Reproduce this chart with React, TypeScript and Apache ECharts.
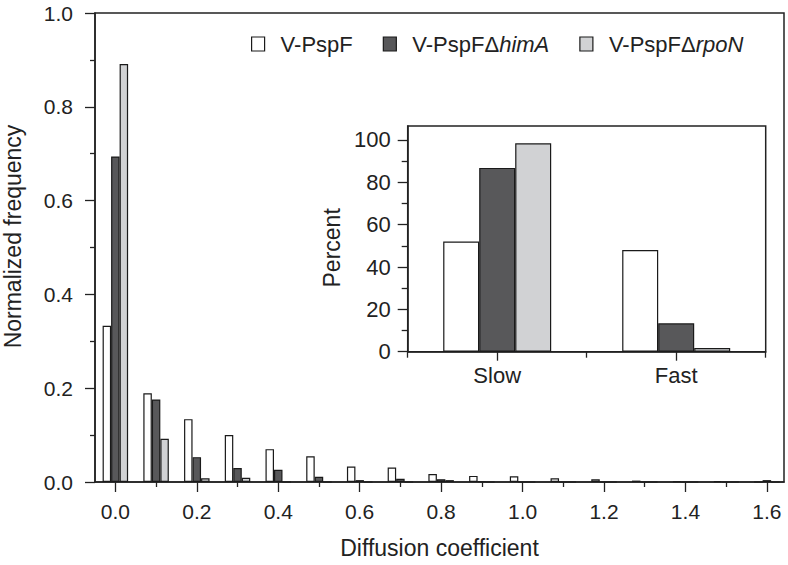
import React, { useEffect, useRef } from 'react';
import * as echarts from 'echarts';

// Main histogram bins (diffusion coefficient)
const bins = [0.0, 0.1, 0.2, 0.3, 0.4, 0.5, 0.6, 0.7, 0.8, 0.9, 1.0, 1.1, 1.2, 1.3, 1.4, 1.5, 1.6];
const freqPspF = [0.333, 0.189, 0.134, 0.100, 0.070, 0.055, 0.033, 0.031, 0.017, 0.013, 0.012, 0.008, 0.006, 0.003, 0.001, 0.002, 0.0];
const freqHimA = [0.694, 0.176, 0.053, 0.030, 0.026, 0.011, 0.004, 0.007, 0.006, 0.001, 0.0, 0.0, 0.0, 0.0, 0.0, 0.0, 0.004];
const freqRpoN = [0.891, 0.092, 0.008, 0.009, 0.0, 0.0, 0.0, 0.0, 0.004, 0.0, 0.0, 0.0, 0.0, 0.0, 0.0, 0.0, 0.0];

// Inset
const insetCategories = ['Slow', 'Fast'];
const pctPspF = [52.0, 48.0];
const pctHimA = [86.8, 13.4];
const pctRpoN = [98.4, 1.7];

// Tick values
const xMajorTicks = [0.0, 0.2, 0.4, 0.6, 0.8, 1.0, 1.2, 1.4, 1.6];
const xMinorTicks = [0.1, 0.3, 0.5, 0.7, 0.9, 1.1, 1.3, 1.5];
const insetYMajorTicks = [0, 20, 40, 60, 80, 100];
const insetYMinorTicks = [10, 30, 50, 70, 90];

const seriesNames = ['V-PspF', 'V-PspF\u0394himA', 'V-PspF\u0394rpoN'];
const colors = ['#ffffff', '#58585a', '#d1d2d4'];

const FONT = '"Liberation Sans", Arial, Helvetica, sans-serif';
const INK = '#222222';

export default function App() {
  const ref = useRef<HTMLDivElement>(null);

  useEffect(() => {
    if (!ref.current) return;
    const chart = echarts.init(ref.current, undefined, { renderer: 'svg' });

    const mainData = [freqPspF, freqHimA, freqRpoN];
    const insetData = [pctPspF, pctHimA, pctRpoN];

    const barStyle = (i: number) => ({
      color: colors[i],
      borderColor: '#1a1a1a',
      borderWidth: 1.2,
    });

    const mainSeries = seriesNames.map((name, i) => ({
      name,
      type: 'bar',
      xAxisIndex: 0,
      yAxisIndex: 0,
      barWidth: 8.5,
      barGap: '0%',
      itemStyle: barStyle(i),
      data: bins.map((b, k) => [b, mainData[i][k]]),
    }));

    const insetSeries = seriesNames.map((name, i) => ({
      name,
      type: 'bar',
      xAxisIndex: 2,
      yAxisIndex: 2,
      barWidth: 36,
      barGap: '0%',
      itemStyle: barStyle(i),
      data: insetData[i],
    }));

    const axisLine = { show: true, onZero: false, lineStyle: { color: INK, width: 1.5 } };
    const tickLine = { color: INK, width: 1.3 };

    const option: any = {
      animation: false,
      backgroundColor: '#ffffff',
      textStyle: { fontFamily: FONT, color: INK },
      legend: {
        data: seriesNames,
        left: 246,
        top: 28,
        itemWidth: 13,
        itemHeight: 14,
        itemGap: 30,
        icon: 'rect',
        selectedMode: false,
        itemStyle: { borderColor: '#1a1a1a', borderWidth: 1.2 },
        formatter: (name: string) => {
          const idx = name.indexOf('\u0394');
          if (idx < 0) return '{n|' + name + '}';
          return '{n|' + name.slice(0, idx + 1) + '}{i|' + name.slice(idx + 1) + '}';
        },
        textStyle: {
          fontSize: 22,
          color: INK,
          fontFamily: FONT,
          padding: [0, 0, 0, 11],
          rich: {
            n: { fontSize: 22, color: INK, fontFamily: FONT },
            i: { fontSize: 22, color: INK, fontFamily: FONT, fontStyle: 'italic' },
          },
        },
      },
      grid: [
        {
          left: 95,
          top: 13,
          right: 4,
          bottom: 83,
          outerBoundsMode: 'none',
          containLabel: false,
          show: true,
          borderColor: INK,
          borderWidth: 1.5,
          backgroundColor: 'transparent',
        },
        {
          left: 407.7,
          top: 126,
          width: 358,
          height: 225.7,
          outerBoundsMode: 'none',
          containLabel: false,
          show: true,
          borderColor: INK,
          borderWidth: 1.5,
          backgroundColor: '#ffffff',
        },
      ],
      xAxis: [
        {
          type: 'value',
          gridIndex: 0,
          position: 'bottom',
          min: -0.05,
          max: 1.642,
          axisLine,
          splitLine: { show: false },
          axisTick: { show: true, length: 10, lineStyle: tickLine, customValues: xMajorTicks },
          axisLabel: {
            customValues: xMajorTicks,
            formatter: (v: number) => v.toFixed(1),
            fontSize: 21,
            color: INK,
            fontFamily: FONT,
            margin: 19,
          },
          name: 'Diffusion coefficient',
          nameLocation: 'middle',
          nameGap: 54,
          nameTextStyle: { fontSize: 23, color: INK, fontFamily: FONT },
        },
        {
          type: 'value',
          gridIndex: 0,
          position: 'bottom',
          min: -0.05,
          max: 1.642,
          axisLine: { show: false },
          splitLine: { show: false },
          axisTick: { show: true, length: 5, lineStyle: tickLine, customValues: xMinorTicks },
          axisLabel: { show: false },
        },
        {
          type: 'category',
          gridIndex: 1,
          position: 'bottom',
          data: insetCategories,
          axisLine,
          axisTick: { show: true, alignWithLabel: true, length: 9, lineStyle: tickLine },
          axisLabel: { fontSize: 22, color: INK, fontFamily: FONT, margin: 13 },
        },
        {
          type: 'category',
          gridIndex: 1,
          position: 'bottom',
          data: insetCategories,
          axisLine: { show: false },
          axisTick: { show: true, alignWithLabel: false, length: 6, lineStyle: tickLine },
          axisLabel: { show: false },
        },
      ],
      yAxis: [
        {
          type: 'value',
          gridIndex: 0,
          position: 'left',
          min: 0,
          max: 1,
          interval: 0.2,
          axisLine,
          splitLine: { show: false },
          axisTick: { show: true, length: 10, lineStyle: tickLine },
          minorTick: { show: true, splitNumber: 2, length: 5, lineStyle: tickLine },
          axisLabel: {
            formatter: (v: number) => v.toFixed(1),
            fontSize: 21,
            color: INK,
            fontFamily: FONT,
            margin: 22,
          },
          name: 'Normalized frequency',
          nameLocation: 'middle',
          nameGap: 71,
          nameTextStyle: { fontSize: 23, color: INK, fontFamily: FONT, padding: [0, 0, 0, 22] },
        },
        {
          type: 'value',
          gridIndex: 1,
          position: 'left',
          min: 0,
          max: 106.6,
          axisLine: { show: false },
          splitLine: { show: false },
          axisTick: { show: true, length: 6, lineStyle: tickLine, customValues: insetYMinorTicks },
          axisLabel: { show: false },
        },
        {
          type: 'value',
          gridIndex: 1,
          position: 'left',
          min: 0,
          max: 106.6,
          axisLine,
          splitLine: { show: false },
          axisTick: { show: true, length: 10, lineStyle: tickLine, customValues: insetYMajorTicks },
          axisLabel: {
            customValues: insetYMajorTicks,
            fontSize: 22,
            color: INK,
            fontFamily: FONT,
            margin: 17,
          },
          name: 'Percent',
          nameLocation: 'middle',
          nameGap: 64,
          nameTextStyle: { fontSize: 23, color: INK, fontFamily: FONT, padding: [0, 18, 0, 0] },
        },
      ],
      series: [...mainSeries, ...insetSeries],
    };

    chart.setOption(option);
    return () => chart.dispose();
  }, []);

  return (
    <div
      ref={ref}
      style={{ position: 'fixed', left: 0, top: 0, width: 788, height: 565, background: '#fff' }}
    />
  );
}
